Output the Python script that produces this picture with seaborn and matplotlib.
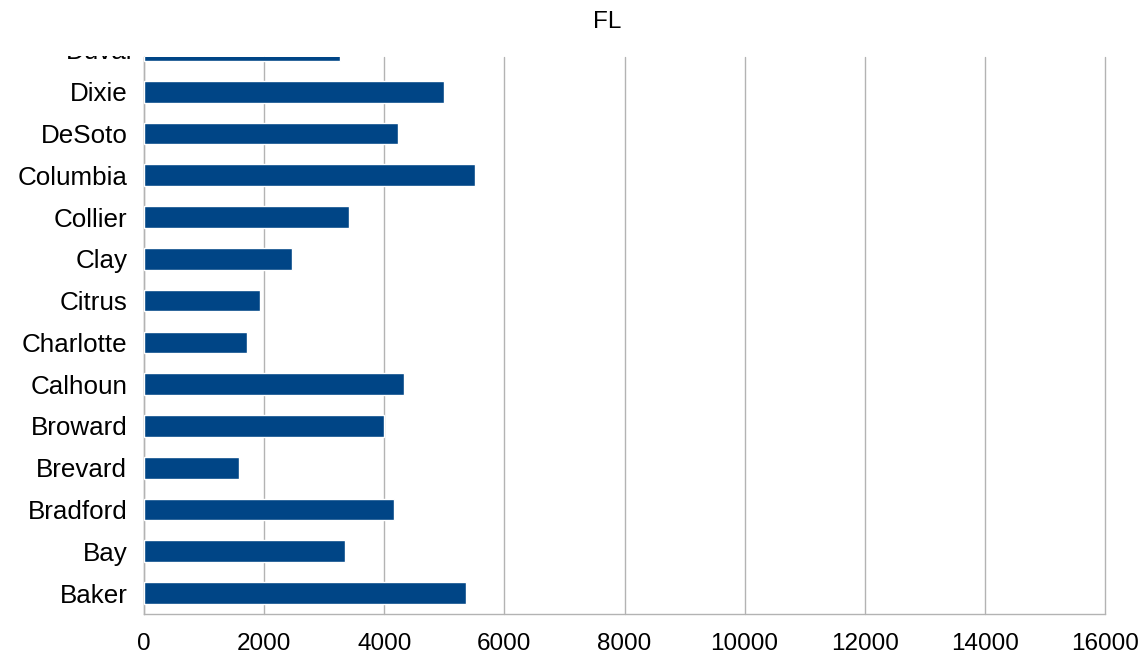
import matplotlib
matplotlib.use("Agg")
import matplotlib.pyplot as plt
import matplotlib.transforms as mtransforms
import pandas as pd
import seaborn as sns

# counties, bottom (Baker) to top (Duval)
counties = ["Baker", "Bay", "Bradford", "Brevard", "Broward", "Calhoun", "Charlotte",
            "Citrus", "Clay", "Collier", "Columbia", "DeSoto", "Dixie", "Duval"]
values = [5368, 3341, 4155, 1579, 3989, 4321, 1712,
          1928, 2460, 3407, 5518, 4221, 5003, 3257]
x_ticks = [0, 2000, 4000, 6000, 8000, 10000, 12000, 14000, 16000]

df = pd.DataFrame({"county": counties, "value": values})

sns.set_style("white")
plt.rcParams["font.family"] = ["Liberation Sans", "DejaVu Sans"]
plt.rcParams["text.color"] = "black"

fig = plt.figure(figsize=(11.48, 6.66), dpi=100)
ax = fig.add_axes([144 / 1148, 1 - 614 / 666, (1105 - 144) / 1148, (614 - 57) / 666])

order = counties[::-1]  # top row first
sns.barplot(data=df, x="value", y="county", order=order, orient="h",
            color="#004586", saturation=1, width=0.52, ax=ax, zorder=3)

grey = "#b3b3b3"
ax.set_xlim(0, 16000)
ax.set_xticks(x_ticks)
ax.set_xticklabels([str(t) for t in x_ticks], fontsize=17.5)
ax.set_ylim(len(order) - 0.5, 0.17)
ax.set_xlabel("")
ax.set_ylabel("")
ax.grid(axis="x", color=grey, linewidth=1.0, zorder=0)
ax.set_axisbelow(True)
for gl in ax.get_xgridlines():
    gl.set_clip_on(False)

for side in ["top", "right"]:
    ax.spines[side].set_visible(False)
for side in ["left", "bottom"]:
    ax.spines[side].set_color(grey)
    ax.spines[side].set_linewidth(1.0)

ax.tick_params(axis="x", length=8, width=1.0, color=grey, pad=6, labelcolor="black")
ax.tick_params(axis="y", which="major", length=0, pad=12, labelsize=18.7, labelcolor="black")
ax.set_yticks([i + 0.5 for i in range(len(order))], minor=True)
ax.tick_params(axis="y", which="minor", length=7, width=1.0, color=grey)

# top row label is cut off by the plot edge, like the reference
trans = mtransforms.blended_transform_factory(ax.transAxes, ax.transData)
top_lbl = ax.text(-12 / 961, 0, order[0], transform=trans, ha="right", va="center_baseline",
                  fontsize=18.7, clip_on=True)
top_lbl.set_clip_box(mtransforms.Bbox.from_extents(0, 0, 1148, 666 - 56))

fig.text(607 / 1148, 1 - 28 / 666, "FL", ha="center", va="baseline", fontsize=17.5)

fig.savefig("out.png", dpi=100, facecolor="white")
